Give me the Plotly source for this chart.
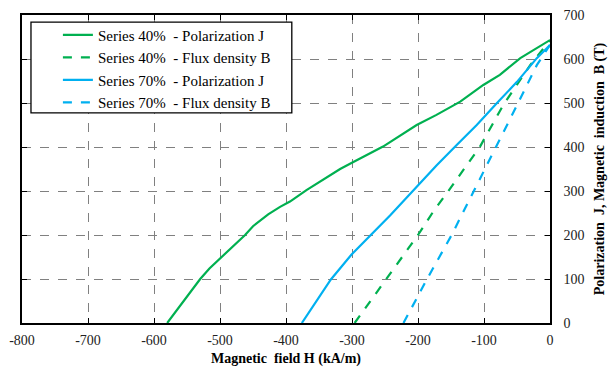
import plotly.graph_objects as go

# Series 40% - Polarization J
h40_j = [-580, -530, -516, -500, -462, -450, -427, -409, -394, -369, -318, -303, -253, -202, -172, -136, -101, -76, -45, 0]
b40_j = [0, 100, 124, 147, 200, 220, 247, 264, 276, 302, 350, 362, 401, 450, 473, 503, 541, 564, 602, 643]
# Series 40% - Flux density B
h40_b = [-296, -248, -200, -177, -153, -106, -71, -30, 0]
b40_b = [0, 100, 200, 253, 302, 401, 495, 586, 643]
# Series 70% - Polarization J
h70_j = [-376, -332, -301, -258, -242, -204, -172, -141, -111, -81, -50, -20, 0]
b70_j = [0, 99, 155, 219, 245, 306, 358, 405, 450, 499, 548, 602, 632]
# Series 70% - Flux density B
h70_b = [-222, -187, -149, -131, -111, -101, -81, -50, -20, 0]
b70_b = [0, 98, 200, 253, 314, 344, 401, 495, 586, 632]

x_ticks = [-800, -700, -600, -500, -400, -300, -200, -100, 0]
x_tick_labels = ["-800", "-700", "-600", "-500", "-400", "-300", "-200", "-100", "0"]
y_ticks = [0, 100, 200, 300, 400, 500, 600, 700]

names = ["Series 40%\u00a0 - Polarization J", "Series 40%\u00a0 - Flux density B",
         "Series 70%\u00a0 - Polarization J", "Series 70%\u00a0 - Flux density B"]

GREEN = "#00B050"
BLUE = "#00B0F0"
FONT = "Liberation Serif"

fig = go.Figure()
series = [(h40_j, b40_j, GREEN, "solid"), (h40_b, b40_b, GREEN, "dash"),
          (h70_j, b70_j, BLUE, "solid"), (h70_b, b70_b, BLUE, "dash")]
for i, (x, y, c, d) in enumerate(series):
    fig.add_trace(go.Scatter(x=x, y=y, mode="lines", name=names[i],
                             legendgroup=f"g{i}",
                             line=dict(color=c, width=2.2, dash=d)))

axis_common = dict(showline=True, linecolor="black", linewidth=1.5, mirror="ticks",
                   ticks="inside", ticklen=5, tickcolor="black",
                   showgrid=True, gridcolor="#808080", griddash="dash", gridwidth=1,
                   zeroline=False, automargin=False,
                   tickfont=dict(family=FONT, size=14, color="#222"))

# legend frame
fig.add_shape(type="rect", xref="paper", yref="paper",
              x0=0.017, x1=0.511, y0=0.682, y1=0.977,
              line=dict(color="black", width=1.3), fillcolor="white", layer="above")

fig.update_layout(
    width=608, height=367,
    margin=dict(l=22, r=58, t=15, b=44),
    paper_bgcolor="white", plot_bgcolor="white",
    font=dict(family=FONT, size=14, color="black"),
    showlegend=True,
    legend=dict(x=0.068, y=0.988, xanchor="left", yanchor="top",
                bgcolor="rgba(0,0,0,0)", borderwidth=0,
                font=dict(family=FONT, size=15, color="black"),
                traceorder="grouped", tracegroupgap=0),
    xaxis=dict(range=[-800, 0], tickvals=x_ticks, ticktext=x_tick_labels,
               ticklabelstandoff=3, **axis_common,
               title=dict(text="<b>Magnetic  field H (kA/m)</b>", standoff=8,
                          font=dict(family=FONT, size=14))),
    yaxis=dict(range=[0, 700], tickvals=y_ticks, side="right",
               ticklabelstandoff=9, **axis_common,
               title=dict(text="<b>Polarization  J, Magnetic  induction  B (T)</b>", standoff=14,
                          font=dict(family=FONT, size=14))),
)

fig.write_html("out.html")
